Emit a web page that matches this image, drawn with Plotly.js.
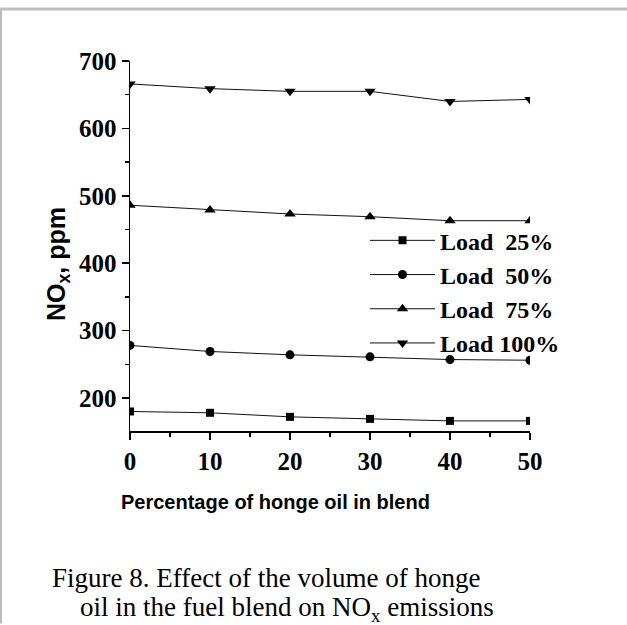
<!DOCTYPE html>
<html><head><meta charset="utf-8">
<script src="https://cdn.plot.ly/plotly-3.0.1.min.js"></script>
<style>html,body{margin:0;padding:0;background:#fff;}#chart{width:627px;height:625px;}</style>
</head><body><div id="chart"></div>
<script>
const blendPct = [0, 10, 20, 30, 40, 50];
const load25 = [180, 178, 172, 169, 166, 166];
const load50 = [278, 269, 264, 261, 257, 256];
const load75 = [486, 479, 473, 469, 463, 463];
const load100 = [666, 659, 655, 655, 640, 643];
const seriesNames = ['Load\u00a0\u00a025%', 'Load\u00a0\u00a050%', 'Load\u00a0\u00a075%', 'Load 100%'];
const xTickVals = [0, 10, 20, 30, 40, 50];
const yTickVals = [200, 300, 400, 500, 600, 700];

const symbols = ['square', 'circle', 'triangle-up', 'triangle-down'];
const sizes = [8, 9, 10, 10];
const allY = [load25, load50, load75, load100];
const traces = allY.map((ys, i) => ({
  x: blendPct, y: ys, name: seriesNames[i], type: 'scatter', mode: 'lines+markers',
  line: {color: '#111', width: 1},
  marker: {symbol: symbols[i], size: sizes[i], color: '#000'}
}));

const serif = 'Liberation Serif, Times New Roman, serif';
const sans = 'Liberation Sans, Arial, sans-serif';

const layout = {
  width: 627, height: 625,
  margin: {l: 130, r: 97, t: 61, b: 194},
  paper_bgcolor: '#fff', plot_bgcolor: '#fff',
  showlegend: true,
  legend: {x: 0.5875, y: 0.575, xanchor: 'left', yanchor: 'top', bgcolor: 'rgba(0,0,0,0)',
    font: {family: serif, size: 24, color: '#000', weight: 'bold'}, itemwidth: 65, tracegroupgap: 0},
  xaxis: {
    range: [0, 50], tickvals: xTickVals, ticktext: xTickVals.map(String),
    showgrid: false, zeroline: false, showline: true, linecolor: '#000', linewidth: 1.5,
    ticks: 'outside', ticklen: 7, tickwidth: 1.5, tickcolor: '#000',
    minor: {dtick: 5, ticks: 'outside', ticklen: 4, tickwidth: 1.5, tickcolor: '#000', showgrid: false},
    tickfont: {family: serif, size: 25, color: '#000', weight: 'bold'}
  },
  yaxis: {
    range: [151, 700], tickvals: yTickVals, ticktext: yTickVals.map(String),
    showgrid: false, zeroline: false, showline: true, linecolor: '#000', linewidth: 1.5,
    ticks: 'outside', ticklen: 7, tickwidth: 1.5, tickcolor: '#000',
    minor: {dtick: 50, tick0: 0, ticks: 'outside', ticklen: 4, tickwidth: 1.5, tickcolor: '#000', showgrid: false},
    tickfont: {family: serif, size: 25, color: '#000', weight: 'bold'}
  },
  annotations: [
    {text: 'NO<sub>x</sub>, ppm', xref: 'paper', yref: 'paper', x: -0.18, y: 0.4514, textangle: -90,
     xanchor: 'center', yanchor: 'middle', showarrow: false,
     font: {family: sans, size: 25, color: '#000', weight: 'bold'}},
    {text: 'Percentage of honge oil in blend', xref: 'paper', yref: 'paper', x: 0.3625, y: -0.193,
     xanchor: 'center', yanchor: 'middle', showarrow: false,
     font: {family: sans, size: 20, color: '#000', weight: 'bold'}},
    {text: 'Figure 8. Effect of the volume of honge', xref: 'paper', yref: 'paper', x: 0.34, y: -0.397,
     xanchor: 'center', yanchor: 'middle', showarrow: false,
     font: {family: serif, size: 27, color: '#000'}},
    {text: 'oil in the fuel blend on NO<sub>x</sub> emissions', xref: 'paper', yref: 'paper', x: 0.392, y: -0.481,
     xanchor: 'center', yanchor: 'middle', showarrow: false,
     font: {family: serif, size: 27, color: '#000'}}
  ],
  shapes: [
    {type: 'line', xref: 'paper', yref: 'paper', x0: -0.33, x1: 1.3, y0: 1.1405, y1: 1.1405, line: {color: '#bdbdbd', width: 3}},
    {type: 'line', xref: 'paper', yref: 'paper', x0: -0.3225, x1: -0.3225, y0: 1.1405, y1: -0.52, line: {color: '#bdbdbd', width: 2}}
  ]
};
Plotly.newPlot('chart', traces, layout, {displayModeBar: false, staticPlot: true});
</script></body></html>
